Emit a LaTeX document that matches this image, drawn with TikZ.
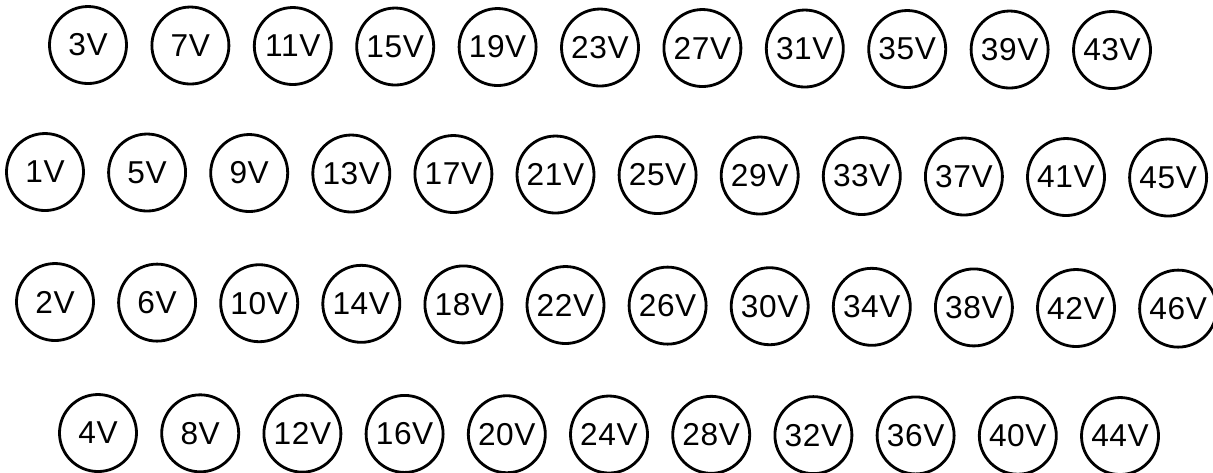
\documentclass[tikz,border=0pt]{standalone}
\usepackage{fontspec}
\newfontfamily\termfont[LetterSpace=2]{Liberation Sans}
\usepackage{tikz}

\begin{document}
\begin{tikzpicture}[
    term/.style={draw, circle, line width=0.8pt, minimum size=0.77cm, inner sep=0pt,
                 font=\termfont\fontsize{9}{10}\selectfont},
]
\useasboundingbox (0,0) rectangle (12.13,-4.72);

% top row: 3V ... 43V
\foreach \i in {0,...,10}{
  \pgfmathtruncatemacro{\v}{3+4*\i}
  \node[term] (t\v) at ({0.88+1.024*\i},{-0.45-0.005*\i}) {\v V};
}
% second row: 1V ... 45V
\foreach \i in {0,...,11}{
  \pgfmathtruncatemacro{\v}{1+4*\i}
  \node[term] (t\v) at ({0.45+1.021*\i},{-1.72-0.005*\i}) {\v V};
}
% third row: 2V ... 46V
\foreach \i in {0,...,11}{
  \pgfmathtruncatemacro{\v}{2+4*\i}
  \node[term] (t\v) at ({0.55+1.021*\i},{-3.02-0.006*\i}) {\v V};
}
% bottom row: 4V ... 44V
\foreach \i in {0,...,10}{
  \pgfmathtruncatemacro{\v}{4+4*\i}
  \node[term] (t\v) at ({0.98+1.022*\i},{-4.33-0.003*\i}) {\v V};
}
\end{tikzpicture}
\end{document}
